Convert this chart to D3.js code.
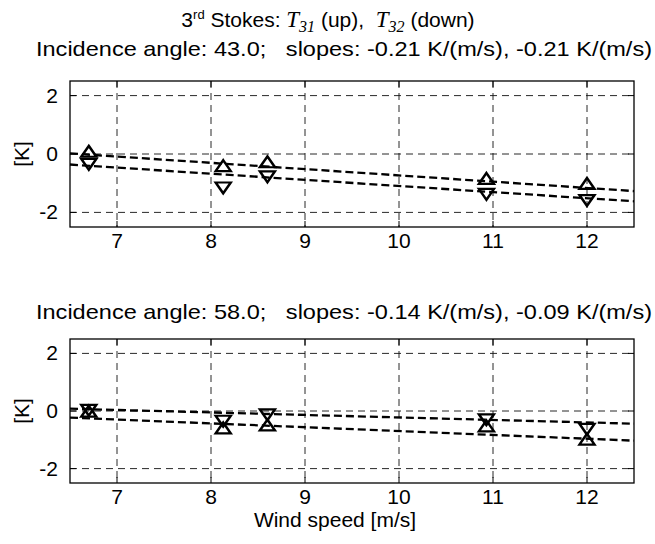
<!DOCTYPE html>
<html>
<head>
<script src="https://d3js.org/d3.v7.min.js"></script>
<style>
  body { margin: 0; background: #fff; }
  svg text { font-family: "Liberation Sans", Arial, sans-serif; fill: #000; white-space: pre; }
  .serif { font-family: "Liberation Serif", "Times New Roman", serif; font-style: italic; }
</style>
</head>
<body>
<div id="chart"></div>
<script>
// wind speed of each measurement (x)
const windSpeed = [6.7, 8.13, 8.6, 10.93, 12.0];

// incidence angle 43.0
const t31_43 = [0.03, -0.46, -0.33, -0.90, -1.07];
const t32_43 = [-0.29, -1.10, -0.72, -1.32, -1.53];
// incidence angle 58.0
const t31_58 = [-0.07, -0.65, -0.55, -0.58, -1.04];
const t32_58 = [0.09, -0.29, -0.07, -0.24, -0.57];

// fitted lines, values at the two ends of the x range
const fitX = [6.5, 12.5];
const fit31_43 = [0.02, -1.27];
const fit32_43 = [-0.36, -1.62];
const fit31_58 = [-0.23, -1.03];
const fit32_58 = [0.08, -0.44];

const xTicks = [7, 8, 9, 10, 11, 12];
const yTicks = [-2, 0, 2];
const subtitles = [
  'Incidence angle: 43.0;   slopes: -0.21 K/(m/s), -0.21 K/(m/s)',
  'Incidence angle: 58.0;   slopes: -0.14 K/(m/s), -0.09 K/(m/s)'
];

const w = 655, h = 544;
const left = 70, right = 634;
const panels = [
  { top: 81, bottom: 227, up: t31_43, down: t32_43, fits: [fit31_43, fit32_43], sub: subtitles[0], subY: 56 },
  { top: 339, bottom: 483, up: t31_58, down: t32_58, fits: [fit31_58, fit32_58], sub: subtitles[1], subY: 319 }
];
const fs = 21;

const svg = d3.select('#chart').append('svg')
  .attr('width', w).attr('height', h);

const x = d3.scaleLinear().domain([6.5, 12.5]).range([left, right]);

// main title
const title = svg.append('text')
  .attr('x', 328).attr('y', 27)
  .attr('text-anchor', 'middle')
  .style('font-size', fs + 'px');
title.append('tspan').text('3');
title.append('tspan').attr('dy', -8).style('font-size', '13px').text('rd');
title.append('tspan').attr('dy', 8).text(' Stokes: ');
title.append('tspan').attr('class', 'serif').style('font-size', '23px').text('T');
title.append('tspan').attr('class', 'serif').attr('dy', 5).style('font-size', '16px').text('31');
title.append('tspan').attr('dy', -5).text(' (up),  ');
title.append('tspan').attr('class', 'serif').style('font-size', '23px').text('T');
title.append('tspan').attr('class', 'serif').attr('dy', 5).style('font-size', '16px').text('32');
title.append('tspan').attr('dy', -5).text(' (down)');

const triUp = d3.symbol().type(d3.symbolTriangle).size(68);

panels.forEach(p => {
  const y = d3.scaleLinear().domain([-2.5, 2.5]).range([p.bottom, p.top]);
  const g = svg.append('g');

  g.append('text')
    .attr('x', 36).attr('y', p.subY)
    .attr('textLength', 616).attr('lengthAdjust', 'spacingAndGlyphs')
    .style('font-size', fs + 'px')
    .text(p.sub);

  // grid
  g.selectAll('.gx').data(xTicks).enter().append('line')
    .attr('x1', d => x(d)).attr('x2', d => x(d))
    .attr('y1', p.top).attr('y2', p.bottom)
    .attr('stroke', '#111').attr('stroke-width', 0.9)
    .attr('stroke-dasharray', '7,5');
  g.selectAll('.gy').data(yTicks).enter().append('line')
    .attr('x1', left).attr('x2', right)
    .attr('y1', d => y(d)).attr('y2', d => y(d))
    .attr('stroke', '#111').attr('stroke-width', 0.9)
    .attr('stroke-dasharray', '7,5');

  // fitted lines
  const line = d3.line().x((d, i) => x(fitX[i])).y(d => y(d));
  p.fits.forEach(f => {
    g.append('path').attr('d', line(f))
      .attr('fill', 'none').attr('stroke', '#000')
      .attr('stroke-width', 2.3).attr('stroke-dasharray', '8,4');
  });

  // markers: T31 up triangles, T32 down triangles
  const drawMarkers = (vals, rot) => {
    g.selectAll(null).data(vals).enter().append('path')
      .attr('d', triUp)
      .attr('transform', (d, i) => `translate(${x(windSpeed[i])},${y(d)}) rotate(${rot}) scale(1.2,1)`)
      .attr('fill', 'none').attr('stroke', '#000').attr('stroke-width', 2.2);
  };
  drawMarkers(p.up, 0);
  drawMarkers(p.down, 180);

  // box
  g.append('rect')
    .attr('x', left).attr('y', p.top)
    .attr('width', right - left).attr('height', p.bottom - p.top)
    .attr('fill', 'none').attr('stroke', '#000').attr('stroke-width', 1.3);

  // inward ticks on all sides
  const tl = 6;
  xTicks.forEach(t => {
    g.append('line').attr('x1', x(t)).attr('x2', x(t)).attr('y1', p.bottom).attr('y2', p.bottom - tl).attr('stroke', '#000');
    g.append('line').attr('x1', x(t)).attr('x2', x(t)).attr('y1', p.top).attr('y2', p.top + tl).attr('stroke', '#000');
  });
  yTicks.forEach(t => {
    g.append('line').attr('x1', left).attr('x2', left + tl).attr('y1', y(t)).attr('y2', y(t)).attr('stroke', '#000');
    g.append('line').attr('x1', right).attr('x2', right - tl).attr('y1', y(t)).attr('y2', y(t)).attr('stroke', '#000');
  });

  // tick labels
  g.selectAll('.xl').data(xTicks).enter().append('text')
    .attr('x', d => x(d)).attr('y', p.bottom + 21)
    .attr('text-anchor', 'middle').style('font-size', fs + 'px')
    .text(d => d);
  g.selectAll('.yl').data(yTicks).enter().append('text')
    .attr('x', left - 12).attr('y', d => y(d) + 7)
    .attr('text-anchor', 'end').style('font-size', fs + 'px')
    .text(d => d);

  g.append('text')
    .attr('transform', `translate(29,${(p.top + p.bottom) / 2}) rotate(-90)`)
    .attr('text-anchor', 'middle').style('font-size', fs + 'px')
    .text('[K]');
});

svg.append('text')
  .attr('x', 335).attr('y', 527)
  .attr('text-anchor', 'middle').style('font-size', fs + 'px')
  .text('Wind speed [m/s]');
</script>
</body>
</html>
